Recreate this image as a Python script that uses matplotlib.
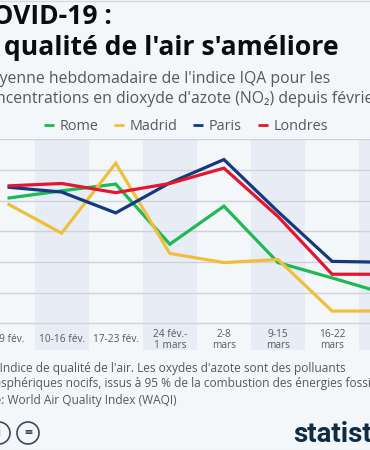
import matplotlib
matplotlib.use("Agg")
import matplotlib.pyplot as plt
from matplotlib.patches import Circle

weeks = ["3-9 fév.", "10-16 fév.", "17-23 fév.", "24 fév.-\n1 mars", "2-8\nmars", "9-15\nmars", "16-22\nmars", "23-29\nmars"]
rome = [20.4, 21.6, 22.7, 12.9, 19.1, 9.9, 7.4, 4.8]
madrid = [19.5, 14.7, 26.1, 11.4, 9.9, 10.4, 2.0, 2.0]
paris = [22.2, 21.4, 18.0, 22.9, 26.7, 18.2, 10.1, 9.95]
londres = [22.4, 22.8, 21.3, 22.8, 25.3, 17.4, 8.0, 8.0]
grid_values = [0, 5, 10, 15, 20, 25, 30]
series = [("Rome", rome, "#1db954"), ("Madrid", madrid, "#efbf3c"),
          ("Paris", paris, "#123a7c"), ("Londres", londres, "#e3152f")]

W, H = 370, 450
BG = "#f3f7fa"
BAND = "#e8edf5"
TXT = "#55595e"
plt.rcParams['font.family'] = ['Open Sans', 'DejaVu Sans']
fig = plt.figure(figsize=(W/100, H/100), dpi=100, facecolor=BG)

def fx(p): return p / W
def fy(p): return 1 - p / H

ax = fig.add_axes([0, fy(350), 1, (350-139.3)/H])
ax.set_facecolor("none")
ax.set_xlim(-0.139, 6.70)
ax.set_ylim(-4.35, 30)
for s in ax.spines.values():
    s.set_visible(False)
ax.set_xticks([]); ax.set_yticks([])
for i in range(1, len(weeks), 2):
    ax.axvspan(i-0.5, i+0.5, color=BAND, lw=0, zorder=0)
for g in grid_values:
    ax.axhline(g, color="#cfd3d8", lw=1.0, zorder=1)
for name, vals, c in series:
    ax.plot(range(len(vals)), vals, color=c, lw=2.3, solid_joinstyle="miter", solid_capstyle="butt", zorder=3)
for i, w in enumerate(weeks):
    ax.text(i, -2.65, w, ha="center", va="center", fontsize=7.3, color=TXT, linespacing=1.0, clip_on=True)

fig.text(fx(-24), fy(24), "COVID-19 :", fontsize=19.1, fontweight="bold", color="#0c0c0c")
fig.text(fx(-34), fy(55), "La qualité de l'air s'améliore", fontsize=19.1, fontweight="bold", color="#0c0c0c")
fig.text(fx(-24), fy(83), "Moyenne hebdomadaire de l'indice IQA pour les", fontsize=11.3, color=TXT)
fig.text(fx(-21), fy(103), "concentrations en dioxyde d'azote (NO₂) depuis février", fontsize=11.3, color=TXT)

leg_x = [44, 114, 193, 258]
for (name, vals, c), x in zip(series, leg_x):
    fig.add_artist(plt.Line2D([fx(x), fx(x+10)], [fy(124.5)]*2, color=c, lw=2.0, solid_capstyle="butt"))
    fig.text(fx(x+16), fy(124.5), name, fontsize=10.4, color=TXT, va="center_baseline")

fig.text(fx(-10), fy(372), "* Indice de qualité de l'air. Les oxydes d'azote sont des polluants", fontsize=8.55, color=TXT)
fig.text(fx(-28), fy(387), "atmosphériques nocifs, issus à 95 % de la combustion des énergies fossiles.", fontsize=8.55, color=TXT)
fig.text(fx(-37), fy(404), "Source: World Air Quality Index (WAQI)", fontsize=8.55, color=TXT)

for cx in (-1, 28):
    fig.add_artist(Circle((cx, H-433), 11, transform=None, fill=False, ec="#3f4a55", lw=1.2))
fig.text(fx(28), fy(433), "=", fontsize=10, fontweight="bold", color="#3f4a55", ha="center", va="center")
fig.text(fx(-1), fy(433), "i", fontsize=10, fontweight="bold", color="#3f4a55", ha="center", va="center")

fig.text(fx(293), fy(441.5), "statista", fontsize=20, fontweight="bold", color="#0f2c42", family=["Roboto", "Open Sans"])

fig.add_artist(plt.Line2D([0, 1], [fy(0.5)]*2, color="#d5d8dc", lw=1))
fig.add_artist(plt.Line2D([0, 1], [fy(449.5)]*2, color="#d5d8dc", lw=1))
fig.savefig("out.png", dpi=100, facecolor=BG)
